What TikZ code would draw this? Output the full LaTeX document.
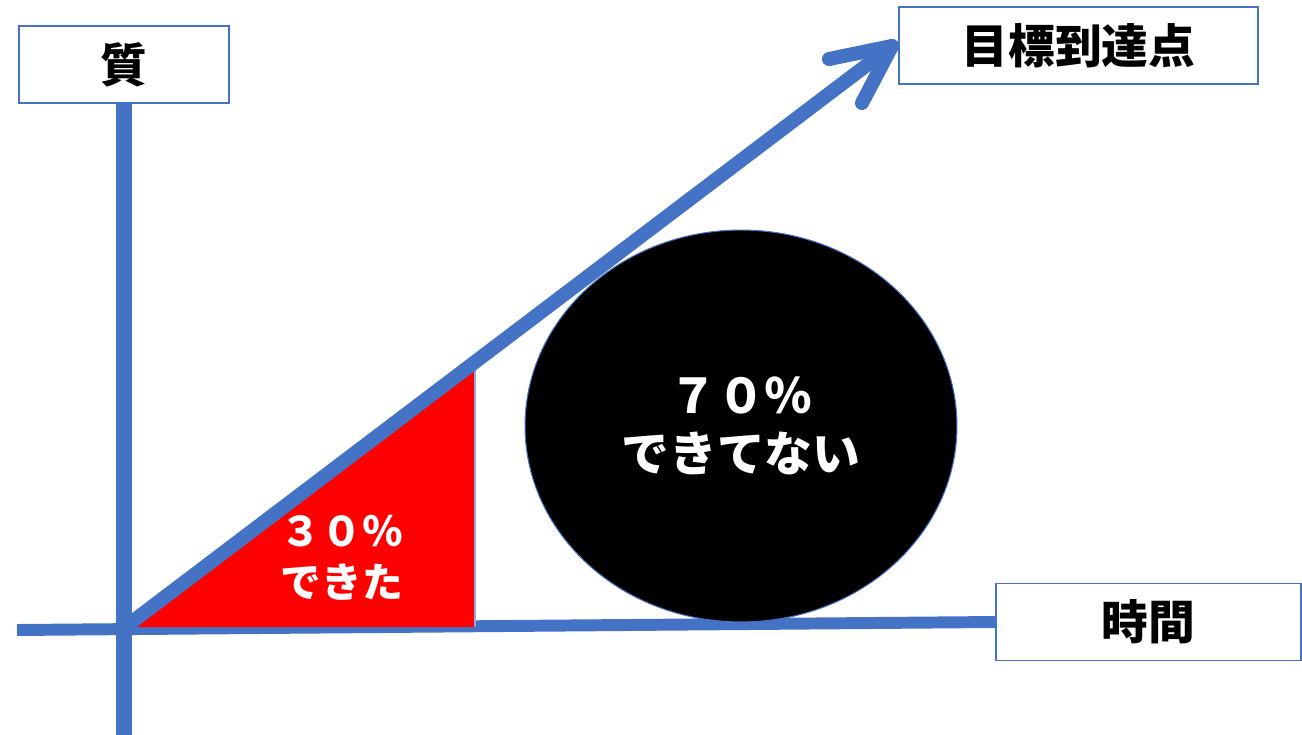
\documentclass[tikz,border=0pt]{standalone}
\usepackage{fontspec}
\newfontfamily\jp{Noto Sans CJK JP}
\usetikzlibrary{shapes.geometric,calc}
\definecolor{axisblue}{HTML}{4472C4}
\definecolor{tred}{HTML}{FF0000}
\tikzset{
  labelbox/.style={draw=axisblue,line width=1pt,fill=white,inner sep=0pt,
    minimum height=1.54cm,font=\jp\bfseries\fontsize{26.6pt}{30pt}\selectfont,text=black},
  axisline/.style={draw=axisblue,line cap=butt},
  growline/.style={draw=axisblue,line width=8pt,line cap=round,line join=round},
  whitetext/.style={text=white,align=center,inner sep=0pt}
}
\begin{document}
\begin{tikzpicture}[x={(0.02cm,0)},y={(0,-0.02cm)}]
\useasboundingbox (0,0) rectangle (1302,734);
% label boxes
\node[labelbox,minimum width=4.2cm] (q) at (124,64.5) {質};
\node[labelbox,minimum width=7.18cm] (goal) at (1078.5,45.5) {目標到達点};
\node[labelbox,minimum width=6.1cm] (t) at (1148.5,622) {時間};
% axes
\coordinate (xl) at (17,630);
\coordinate (yb) at (124,740);
\coordinate (o) at (124,628);
\draw[axisline,line width=6.8pt] (xl) -- (t.west);
\draw[axisline,line width=9pt] (q.south) -- (yb);
% red triangle (achieved part)
\coordinate (ta) at (127,627);
\coordinate (tb) at (475,368);
\coordinate (tc) at (475,627);
\fill[tred] (ta) -- (tb) -- (tc) -- cycle;
\draw[axisblue!60,line width=0.6pt] (tb) -- (tc);
\node[whitetext,font=\jp\bfseries\fontsize{23.2pt}{28.9pt}\selectfont] (done) at (342,557.5) {３０％\\できた};
% black ellipse (not achieved part)
\node[ellipse,draw=axisblue,line width=0.6pt,fill=black,minimum width=8.64cm,minimum height=7.84cm,inner sep=0pt,
  whitetext,font=\jp\bfseries\fontsize{27.2pt}{32.9pt}\selectfont] (rest) at (741,426) {７０％\\できてない};
% growth arrow
\coordinate (tip) at (892,46);
\coordinate (arm1) at ($(tip)+(-63,13)$);
\coordinate (arm2) at ($(tip)+(-30,57)$);
\draw[growline] (o) -- (tip);
\draw[growline] (arm1) -- (tip) -- (arm2);
\end{tikzpicture}
\end{document}
